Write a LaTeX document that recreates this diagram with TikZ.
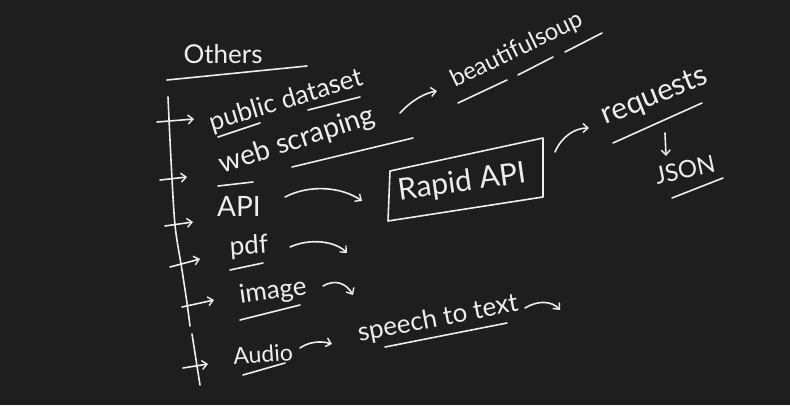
\documentclass[tikz,border=0pt]{standalone}
\usepackage{fontspec}
\setmainfont{Lato}
\usetikzlibrary{arrows.meta}
\definecolor{board}{RGB}{30,30,30}
\definecolor{chalk}{RGB}{238,238,238}
\tikzset{
  lbl/.style={text=chalk, font=\fontsize{26}{30}\selectfont, inner sep=0pt},
  fs/.style={font=\fontsize{#1}{#1}\selectfont},
  ink/.style={draw=chalk, line width=1.6pt, line cap=round, line join=round},
  arr/.style={ink, -{Straight Barb[length=5pt,width=9pt,line width=1.4pt]}},
}
\begin{document}
\begin{tikzpicture}[x=1pt,y=-1pt]
\fill[board] (0,0) rectangle (790,405);
\useasboundingbox (0,0) rectangle (790,405);

% heading
\node[lbl] (others) at (223,54) {Others};
\draw[ink] (167,80) -- (307,66);

% spine
\draw[ink] plot[smooth] coordinates {(168,97) (171,160) (175,225) (182,270) (187,303) (190,326)};
\draw[ink] (192,334) -- (200,385);

% items
\node[lbl, rotate=17] (pub) at (286,101) {public dataset};
\node[lbl, fs=28, rotate=18] (web) at (297,141) {web scraping};
\node[lbl, fs=24, rotate=26] (bs) at (517,50) {beautifulsoup};
\node[lbl, fs=28] (api) at (239,206) {API};
\node[lbl, fs=30, rotate=8] (rapid) at (462,183) {Rapid API};
\node[lbl, fs=30, rotate=22] (req) at (655,97) {requests};
\node[lbl, fs=24, rotate=12] (json) at (685,170) {JSON};
\node[lbl, rotate=4] (pdf) at (249,247) {pdf};
\node[lbl, rotate=8] (img) at (273,292) {image};
\node[lbl, fs=23, rotate=4] (audio) at (263,354) {Audio};
\node[lbl, rotate=11] (stt) at (438,319) {speech to text};

% box round Rapid API
\draw[ink] (390,171) -- (543,138) -- (543,197) -- (388,221) -- cycle;

% underlines
\draw[ink] (218,137) -- (260,123);
\draw[ink] (308,110) -- (360,97);
\draw[ink] (218,186) -- (253,182);
\draw[ink] (292,167) -- (413,138);
\draw[ink] (458,103) -- (507,80);
\draw[ink] (518,75) -- (553,57);
\draw[ink] (565,52) -- (602,33);
\draw[ink] (613,143) -- (702,103);
\draw[ink] (672,198) -- (723,178);
\draw[ink] (230,270) -- (263,263);
\draw[ink] (240,320) -- (300,305);
\draw[ink] (243,375) -- (285,363);
\draw[ink] (385,347) -- (507,323);

% ticks on spine
\coordinate (t1a) at (157,122); \coordinate (t1b) at (194,119);
\coordinate (t2a) at (160,180); \coordinate (t2b) at (187,177);
\coordinate (t3a) at (165,226); \coordinate (t3b) at (193,222);
\coordinate (t4a) at (170,267); \coordinate (t4b) at (200,259);
\coordinate (t5a) at (182,307); \coordinate (t5b) at (214,300);
\coordinate (t6a) at (183,368); \coordinate (t6b) at (208,364);
\foreach \i in {1,...,6} { \draw[arr] (t\i a) -- (t\i b); }

% connectors
\coordinate (webE) at (400,113); \coordinate (bsW) at (437,91);
\draw[arr] (webE) .. controls (412,100) and (425,93) .. (bsW);
\coordinate (apiE) at (285,197); \coordinate (rapW) at (362,201);
\draw[arr] (apiE) .. controls (310,184) and (342,187) .. (rapW);
\coordinate (rapE) at (555,152); \coordinate (reqW) at (589,128);
\draw[arr] (rapE) .. controls (562,136) and (575,128) .. (reqW);
\coordinate (reqS) at (665,133); \coordinate (jsonN) at (666,156);
\draw[arr] (reqS) -- (jsonN);
\coordinate (pdfE) at (290,247); \coordinate (pdfT) at (347,253);
\draw[arr] (pdfE) .. controls (310,238) and (335,241) .. (pdfT);
\coordinate (imgE) at (323,286); \coordinate (imgT) at (353,295);
\draw[arr] (imgE) .. controls (335,279) and (346,283) .. (imgT);
\coordinate (audE) at (300,348); \coordinate (sttW) at (332,344);
\draw[arr] (audE) .. controls (310,341) and (322,341) .. (sttW);
\coordinate (sttE) at (525,308); \coordinate (sttT) at (560,310);
\draw[arr] (sttE) .. controls (538,300) and (552,301) .. (sttT);
\end{tikzpicture}
\end{document}
